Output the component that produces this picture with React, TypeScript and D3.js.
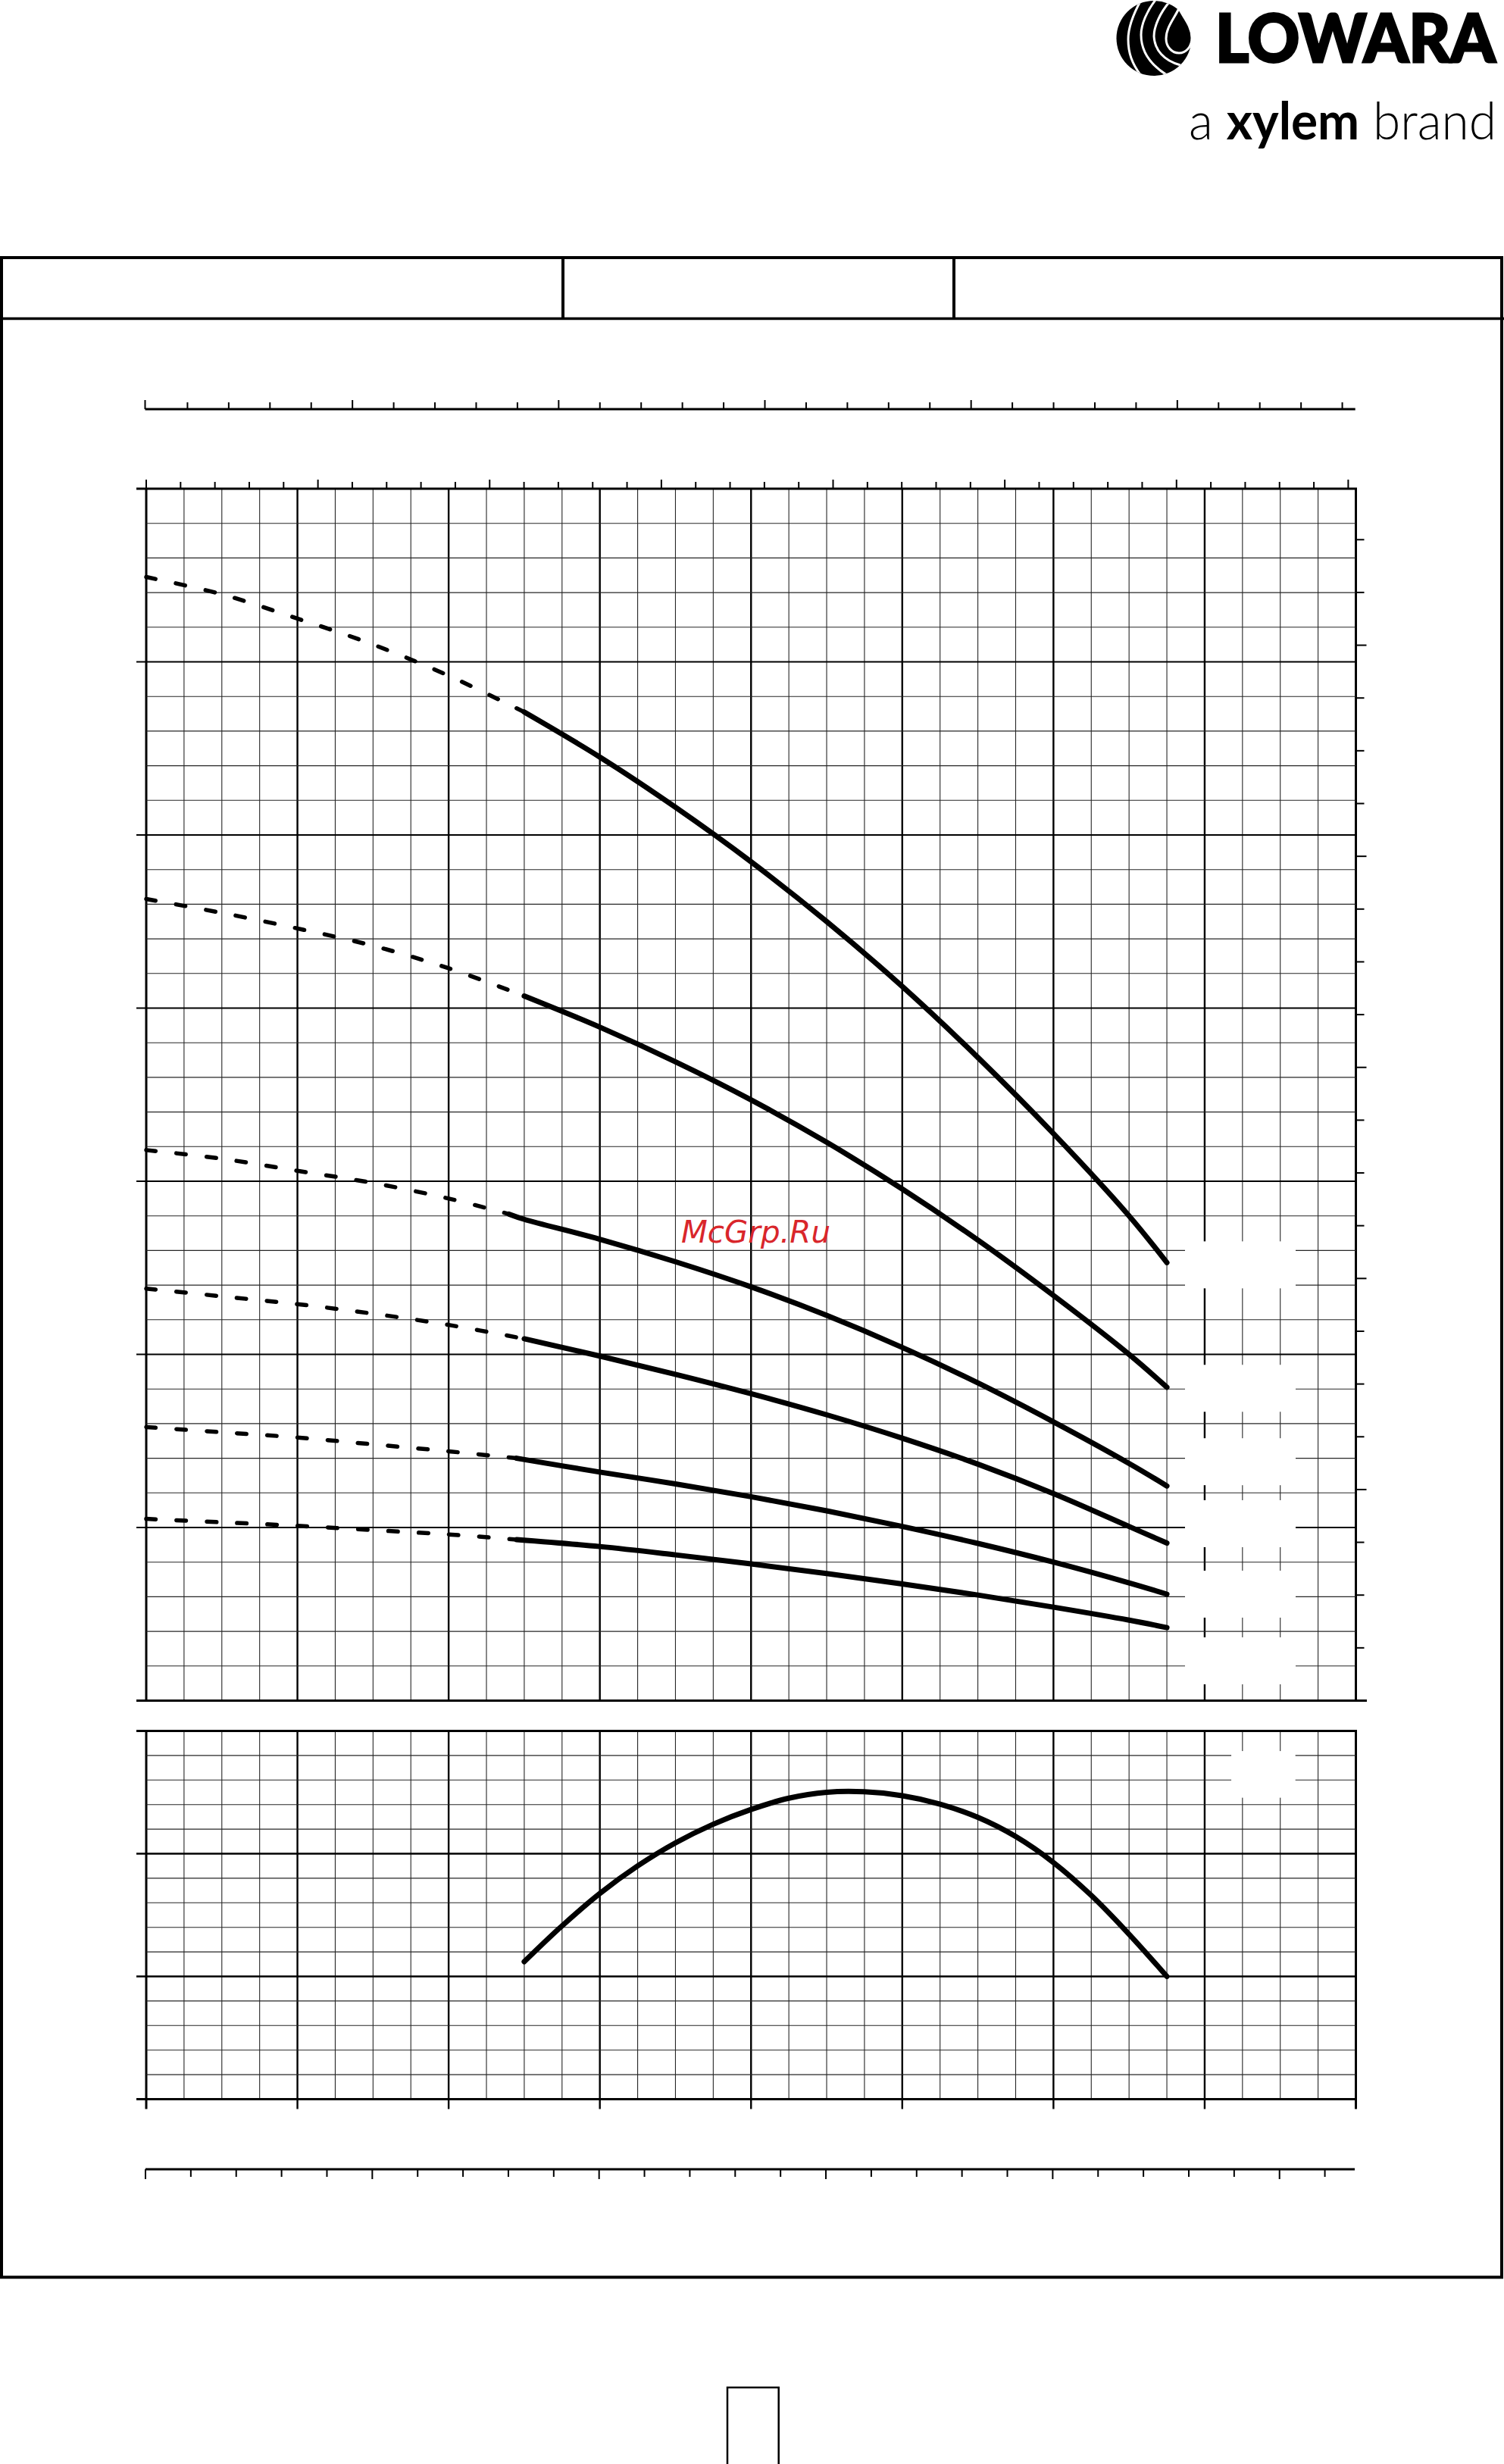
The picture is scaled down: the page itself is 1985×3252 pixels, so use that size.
import React from "react";
import * as d3 from "d3";

const W = 1985;
const H = 3252;

// ---------- data ----------
// flow grid in m3/h (minor 0.25), head in m (minor 2), efficiency in % (minor 5)
const flowGrid = d3.range(0, 8.0001, 0.25);
const headGrid = d3.range(0, 70.0001, 2);
const effGrid = d3.range(0, 75.0001, 5);

// secondary axis ticks
const usGpmTicks = d3.range(0, 36, 1); // US gpm
const impGpmTicks = d3.range(0, 30, 1); // Imp gpm
const lminTicks = d3.range(0, 131, 5); // l/min
const feetTicks = d3.range(0, 221, 10); // ft

const US_GPM = 0.227125; // m3/h
const IMP_GPM = 0.272765; // m3/h
const L_MIN = 0.06; // m3/h
const FOOT = 0.3048; // m

type Pt = [number, number];

const curve1Dashed: Pt[] = [[0, 64.9], [0.5, 63.9], [1, 62.5], [1.5, 61.0], [2, 59.2], [2.5, 57.1]];
const curve1Solid: Pt[] = [[2.5, 57.1], [3, 54.5], [3.5, 51.6], [4, 48.45], [4.5, 45.0], [5, 41.25], [5.5, 37.15], [6, 32.75], [6.5, 28.0], [6.75, 25.3]];

const curve2Dashed: Pt[] = [[0, 46.3], [0.5, 45.5], [1, 44.6], [1.5, 43.6], [2, 42.3], [2.5, 40.7]];
const curve2Solid: Pt[] = [[2.5, 40.7], [3, 38.9], [3.5, 36.9], [4, 34.7], [4.5, 32.25], [5, 29.55], [5.5, 26.6], [6, 23.4], [6.5, 20.0], [6.75, 18.1]];

const curve3Dashed: Pt[] = [[0, 31.8], [0.5, 31.3], [1, 30.6], [1.5, 29.9], [2, 29.0], [2.4, 28.1]];
const curve3Solid: Pt[] = [[2.4, 28.1], [2.5, 27.8], [3, 26.65], [3.5, 25.35], [4, 23.9], [4.5, 22.25], [5, 20.4], [5.5, 18.35], [6, 16.1], [6.5, 13.7], [6.75, 12.4]];

const curve4Dashed: Pt[] = [[0, 23.8], [0.5, 23.35], [1, 22.9], [1.5, 22.35], [2, 21.7], [2.5, 20.9]];
const curve4Solid: Pt[] = [[2.5, 20.9], [3, 19.9], [3.5, 18.85], [4, 17.73], [4.5, 16.51], [5, 15.16], [5.5, 13.66], [6, 11.96], [6.5, 10.06], [6.75, 9.1]];

const curve5Dashed: Pt[] = [[0, 15.8], [0.5, 15.5], [1, 15.2], [1.5, 14.8], [2, 14.4], [2.45, 14.0]];
const curve5Solid: Pt[] = [[2.45, 14.0], [3, 13.2], [3.5, 12.52], [4, 11.78], [4.5, 10.96], [5, 10.06], [5.5, 9.08], [6, 8.0], [6.5, 6.8], [6.75, 6.15]];

const curve6Dashed: Pt[] = [[0, 10.5], [0.5, 10.3], [1, 10.1], [1.5, 9.85], [2, 9.6], [2.45, 9.3]];
const curve6Solid: Pt[] = [[2.45, 9.3], [3, 8.9], [3.5, 8.42], [4, 7.9], [4.5, 7.34], [5, 6.74], [5.5, 6.1], [6, 5.4], [6.5, 4.65], [6.75, 4.22]];

const efficiency: Pt[] = [[2.5, 28.0], [2.75, 35.3], [3, 41.9], [3.25, 47.5], [3.5, 52.2], [3.75, 56.0], [4, 59.0], [4.25, 61.3], [4.5, 62.5], [4.75, 62.6], [5, 61.8], [5.25, 60.1], [5.5, 57.4], [5.75, 53.5], [6, 48.2], [6.25, 41.5], [6.5, 33.6], [6.75, 25.0]];

// erased label areas (centre head in m) on the main chart
const labelBoxHeads = [25.17, 18.04, 13.8, 10.22, 6.15, 2.3];

const dashedCurves = [curve1Dashed, curve2Dashed, curve3Dashed, curve4Dashed, curve5Dashed, curve6Dashed];
const solidCurves = [curve1Solid, curve2Solid, curve3Solid, curve4Solid, curve5Solid, curve6Solid];

// ---------- scales ----------
const xQ = d3.scaleLinear().domain([0, 8]).range([193, 1789.5]);
const yH = d3.scaleLinear().domain([0, 70]).range([2244.5, 645]);
const yE = d3.scaleLinear().domain([0, 75]).range([2770.5, 2284.5]);

const lineH = d3.line<Pt>().x((d) => xQ(d[0])).y((d) => yH(d[1])).curve(d3.curveCatmullRom.alpha(0.5));
const lineE = d3.line<Pt>().x((d) => xQ(d[0])).y((d) => yE(d[1])).curve(d3.curveCatmullRom.alpha(0.5));

const MINOR = "#262626";

function Logo() {
  const cx = 1523, cy = 50.5, r = 49.5;
  return (
    <g>
      <defs>
        <clipPath id="logoClip">
          <circle cx={cx} cy={cy} r={r} />
        </clipPath>
      </defs>
      <circle cx={cx} cy={cy} r={r} fill="#000" />
      <g clipPath="url(#logoClip)" fill="none" stroke="#fff" strokeWidth={3}>
        <path d="M1506,0 C1496,18 1489,38 1489,52 C1489,70 1494,84 1506,100" />
        <path d="M1525,0 C1514,14 1506,32 1506,46 C1506,66 1516,84 1540,99" />
        <path d="M1543,3 C1532,16 1523,34 1523,48 C1524,66 1536,80 1558,86" />
      </g>
      <path
        d="M1556,11 C1561,22 1573,34 1573,50 C1573,62 1565,70 1556,70 C1547,70 1539,62 1539,51 C1539,36 1550,24 1556,11 Z"
        fill="#000"
        stroke="#fff"
        strokeWidth={3}
      />
      <g transform="translate(1604,82) scale(1,1.12)">
        <text
          x={0}
          y={0}
          fontFamily="Lato, 'DejaVu Sans', sans-serif"
          fontWeight={900}
          fontSize={78}
          textLength={370}
          lengthAdjust="spacingAndGlyphs"
          fill="#000"
          stroke="#000"
          strokeWidth={2.5}
        >
          LOWARA
        </text>
      </g>
      <text
        x={1569}
        y={184}
        fontFamily="Lato, 'DejaVu Sans', sans-serif"
        fontSize={68}
        textLength={406}
        lengthAdjust="spacingAndGlyphs"
        fill="#000"
      >
        <tspan fontWeight={300}>a </tspan>
        <tspan fontWeight={700}>xylem</tspan>
        <tspan fontWeight={300}> brand</tspan>
      </text>
    </g>
  );
}

function MainGrid() {
  const x0 = xQ(0), x1 = xQ(8);
  const yt = yH(70), yb = yH(0);
  return (
    <g>
      {flowGrid.map((q, i) => (
        <line
          key={"v" + i}
          x1={xQ(q)}
          x2={xQ(q)}
          y1={yt}
          y2={yb}
          stroke={i % 4 === 0 ? "#000" : MINOR}
          strokeWidth={i === 0 || i === 32 ? 3 : i % 4 === 0 ? 2.4 : 1.1}
        />
      ))}
      {headGrid.map((h, j) => (
        <line
          key={"h" + j}
          x1={j % 5 === 0 ? 180 : x0}
          x2={x1}
          y1={yH(h)}
          y2={yH(h)}
          stroke={j % 5 === 0 ? "#000" : MINOR}
          strokeWidth={j % 5 === 0 ? 2.2 : 1.1}
        />
      ))}
      {/* erased label areas */}
      {labelBoxHeads.map((h, i) => (
        <rect key={"b" + i} x={1564} y={yH(h) - 31} width={146} height={62} fill="#fff" />
      ))}
      {/* top axis (US gpm) */}
      <line x1={180} x2={1791} y1={yt} y2={yt} stroke="#000" strokeWidth={3} />
      {usGpmTicks.map((g) => (
        <line
          key={"g" + g}
          x1={xQ(g * US_GPM)}
          x2={xQ(g * US_GPM)}
          y1={yt}
          y2={yt - (g % 5 === 0 ? 12 : 9)}
          stroke="#000"
          strokeWidth={2}
        />
      ))}
      {/* bottom line */}
      <line x1={180} x2={1804} y1={yb} y2={yb} stroke="#000" strokeWidth={3} />
      {/* right axis (ft) */}
      {feetTicks.map((f) => (
        <line
          key={"f" + f}
          x1={x1}
          x2={x1 + (f % 40 === 0 ? 14 : 11)}
          y1={yH(f * FOOT)}
          y2={yH(f * FOOT)}
          stroke="#000"
          strokeWidth={2}
        />
      ))}
    </g>
  );
}

function LowerGrid() {
  const x0 = xQ(0), x1 = xQ(8);
  const yt = yE(75), yb = yE(0);
  return (
    <g>
      {flowGrid.map((q, i) => (
        <line
          key={"v" + i}
          x1={xQ(q)}
          x2={xQ(q)}
          y1={yt}
          y2={i % 4 === 0 ? yb + 13 : yb}
          stroke={i % 4 === 0 ? "#000" : MINOR}
          strokeWidth={i === 0 || i === 32 ? 3 : i % 4 === 0 ? 2.4 : 1.1}
        />
      ))}
      {effGrid.map((e, j) => (
        <line
          key={"h" + j}
          x1={j % 5 === 0 ? 180 : x0}
          x2={x1 + (j === 0 || j === 15 ? 1.5 : 0)}
          y1={yE(e)}
          y2={yE(e)}
          stroke={j % 5 === 0 ? "#000" : MINOR}
          strokeWidth={j === 0 || j === 15 ? 3 : j % 5 === 0 ? 2.4 : 1.1}
        />
      ))}
      <rect x={xQ(7.176)} y={yE(70.9)} width={xQ(7.6) - xQ(7.176)} height={yE(61.4) - yE(70.9)} fill="#fff" />
    </g>
  );
}

function TopScale() {
  const y = 540;
  return (
    <g>
      <line x1={191.5} x2={1788.7} y1={y} y2={y} stroke="#000" strokeWidth={3} />
      {impGpmTicks.map((g) => (
        <line
          key={g}
          x1={g === 0 ? 191.5 : xQ(g * IMP_GPM)}
          x2={g === 0 ? 191.5 : xQ(g * IMP_GPM)}
          y1={y}
          y2={y - (g % 5 === 0 ? 12 : 9)}
          stroke="#000"
          strokeWidth={2}
        />
      ))}
    </g>
  );
}

function BottomScale() {
  const y = 2863;
  return (
    <g>
      <line x1={192} x2={1788} y1={y} y2={y} stroke="#000" strokeWidth={3} />
      {lminTicks.map((l) => (
        <line
          key={l}
          x1={xQ(l * L_MIN) - 1}
          x2={xQ(l * L_MIN) - 1}
          y1={y}
          y2={y + (l % 25 === 0 ? 13 : 10)}
          stroke="#000"
          strokeWidth={2}
        />
      ))}
    </g>
  );
}

export default function App() {
  return (
    <svg
      width={W}
      height={H}
      viewBox={`0 0 ${W} ${H}`}
      style={{ position: "absolute", left: 0, top: 0, display: "block", background: "#fff" }}
    >
      <rect x={0} y={0} width={W} height={H} fill="#fff" />
      <Logo />

      {/* frame and header cells */}
      <rect x={2} y={340} width={1980} height={2665.5} fill="none" stroke="#000" strokeWidth={4} />
      <line x1={0} x2={1985} y1={420.5} y2={420.5} stroke="#000" strokeWidth={3.5} />
      <line x1={743} x2={743} y1={340} y2={420.5} stroke="#000" strokeWidth={4} />
      <line x1={1259} x2={1259} y1={340} y2={420.5} stroke="#000" strokeWidth={4} />

      <TopScale />
      <MainGrid />

      {dashedCurves.map((c, i) => (
        <path
          key={"d" + i}
          d={lineH(c) || ""}
          fill="none"
          stroke="#000"
          strokeWidth={5.5}
          strokeLinecap="round"
          strokeDasharray="12.5 27.5"
        />
      ))}
      {solidCurves.map((c, i) => (
        <path key={"s" + i} d={lineH(c) || ""} fill="none" stroke="#000" strokeWidth={7} strokeLinecap="round" />
      ))}

      <text
        x={899}
        y={1640}
        fontFamily="'DejaVu Sans', sans-serif"
        fontStyle="italic"
        fontSize={40}
        textLength={197}
        lengthAdjust="spacingAndGlyphs"
        fill="#d9262b"
      >
        McGrp.Ru
      </text>

      <LowerGrid />
      <path d={lineE(efficiency) || ""} fill="none" stroke="#000" strokeWidth={7} strokeLinecap="round" />

      <BottomScale />

      {/* page number box */}
      <rect x={960} y={3151} width={67.7} height={120} fill="none" stroke="#000" strokeWidth={2.5} />
    </svg>
  );
}
